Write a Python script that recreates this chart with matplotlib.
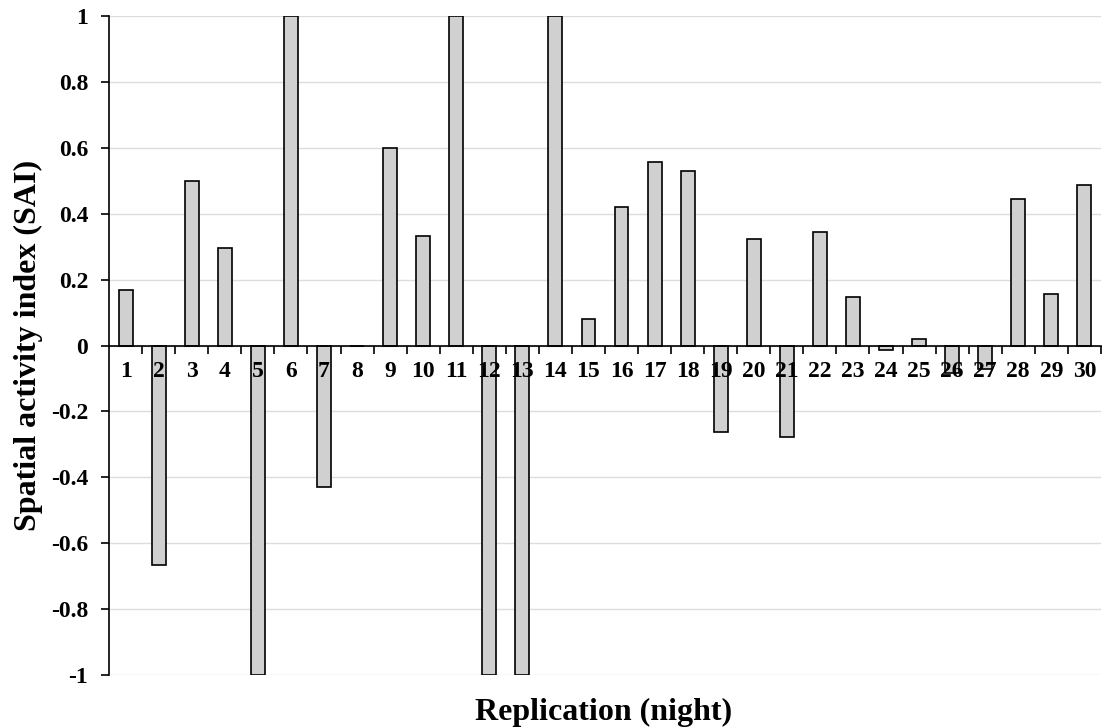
import numpy as np
import matplotlib
matplotlib.use('Agg')
import matplotlib.pyplot as plt

# replication nights and their SAI values
nights = list(range(1, 31))
sai = [0.167, -0.667, 0.5, 0.295, -1.0, 1.0, -0.429, 0.0, 0.6, 0.333,
       1.0, -1.0, -1.0, 1.0, 0.08, 0.42, 0.556, 0.529, -0.263, 0.323,
       -0.277, 0.343, 0.146, -0.015, 0.02, -0.083, -0.071, 0.445, 0.155, 0.486]
y_ticks = [-1, -0.8, -0.6, -0.4, -0.2, 0, 0.2, 0.4, 0.6, 0.8, 1]
y_tick_labels = ['-1', '-0.8', '-0.6', '-0.4', '-0.2', '0', '0.2', '0.4', '0.6', '0.8', '1']

plt.rcParams['font.family'] = ['Liberation Serif', 'DejaVu Serif']
plt.rcParams['font.weight'] = 'bold'

fig = plt.figure(figsize=(11.02, 7.27), dpi=100)
ax = fig.add_axes([0.099, 0.0715, 0.9, 0.9065])

# gridlines behind the bars (axis stays on top so labels cover bars)
for yv in y_ticks:
    ax.axhline(yv, color='#dcdcdc', linewidth=1, zorder=0)

ax.bar(nights, sai, width=0.42, color='#d0d0d0', edgecolor='black',
       linewidth=1.2, zorder=1)

ax.set_xlim(0.5, 30.5)
ax.set_ylim(-1, 1)

ax.set_yticks(y_ticks)
ax.set_yticklabels(y_tick_labels, fontsize=17, fontweight='bold')

# x axis sits on zero, tick marks between categories
ax.spines['bottom'].set_position(('data', 0))
ax.spines['top'].set_visible(False)
ax.spines['right'].set_visible(False)
ax.spines['left'].set_linewidth(1.2)
ax.spines['bottom'].set_linewidth(1.2)
ax.set_xticks(np.arange(1.5, 31, 1))
ax.set_xticklabels([])
ax.set_xticks(nights, minor=True)
ax.set_xticklabels([str(n) for n in nights], minor=True, fontsize=17, fontweight='bold')
ax.tick_params(axis='x', which='major', direction='out', length=6, width=1.2)
ax.tick_params(axis='x', which='minor', length=0, pad=11)
ax.tick_params(axis='y', direction='out', length=6, width=1.2, pad=9)

fig.text(0.026, 0.525, 'Spatial activity index (SAI)', fontsize=23, fontweight='bold',
         rotation=90, ha='center', va='center')
fig.text(0.548, 0.02, 'Replication (night)', fontsize=23, fontweight='bold',
         ha='center', va='center')

fig.savefig('out.png', dpi=100)
